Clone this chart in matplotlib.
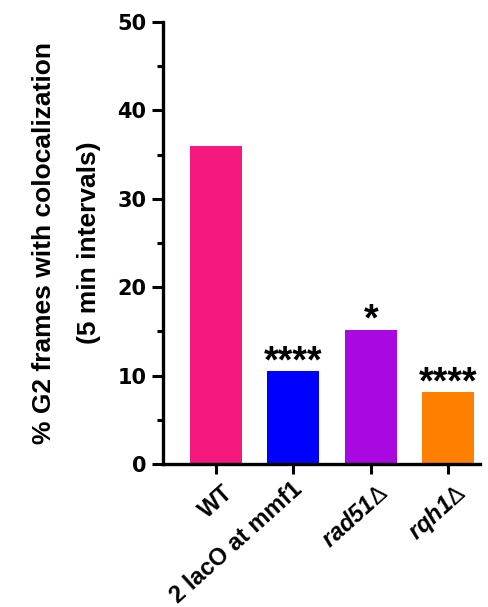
import matplotlib
matplotlib.use("Agg")
import matplotlib.pyplot as plt
from matplotlib.ticker import MultipleLocator
import matplotlib.transforms as mtransforms

plt.rcParams['font.family'] = ['Liberation Sans', 'DejaVu Sans']
plt.rcParams['mathtext.fontset'] = 'custom'
plt.rcParams['mathtext.rm'] = 'Liberation Sans'
plt.rcParams['mathtext.bfit'] = 'Liberation Sans:italic:bold'
plt.rcParams['mathtext.bf'] = 'Liberation Sans:bold'

categories = ["WT", "2 lacO at mmf1", r"$\mathbfit{rad51}\mathrm{\Delta}$", r"$\mathbfit{rqh1}\mathrm{\Delta}$"]
values = [36.0, 10.5, 15.2, 8.1]
colors = ["#F5187F", "#0000FF", "#AA08E0", "#FF8000"]
stars = ["", "****", "*", "****"]

fig = plt.figure(figsize=(4.88, 6.07), dpi=100)
ax = fig.add_axes([0.334, 0.2356, 0.650, 0.7282])

x = list(range(len(values)))
ax.bar(x, values, width=0.67, color=colors, zorder=2)
for xi, v, s in zip(x, values, stars):
    if s:
        ax.text(xi, v - 1.0, s, ha='center', va='bottom', fontsize=27, fontweight='bold',
                family='Liberation Sans')

ax.set_xlim(-0.68, 3.41)
ax.set_ylim(0, 50)
ax.yaxis.set_major_locator(MultipleLocator(10))
ax.yaxis.set_minor_locator(MultipleLocator(5))
ax.set_xticks(x)
ax.set_xticklabels([])

label_shifts = [(14, -26), (6, -22), (14, -26), (14, -26)]
for xi, lab, (dx, dy) in zip(x, categories, label_shifts):
    tr = ax.get_xaxis_transform() + mtransforms.ScaledTranslation(dx/100, dy/100, fig.dpi_scale_trans)
    ax.text(xi, 0, lab, transform=tr, rotation=42, ha='right', va='center',
            rotation_mode='anchor', fontsize=17, fontweight='bold', clip_on=False)

for lbl in ax.get_yticklabels():
    lbl.set_fontweight('bold')
    lbl.set_family('DejaVu Sans')
ax.tick_params(axis='y', labelsize=15, width=2.2, length=8, pad=4)
ax.tick_params(axis='y', which='minor', width=2.2, length=4.5)
ax.tick_params(axis='x', width=2.2, length=7.5, pad=4)

for sp in ['top', 'right']:
    ax.spines[sp].set_visible(False)
for sp in ['left', 'bottom']:
    ax.spines[sp].set_linewidth(2.4)

ax.set_ylabel("% G2 frames with colocalization\n(5 min intervals)", fontsize=19,
              fontweight='bold', labelpad=12, linespacing=2.1)

fig.savefig("out.png", dpi=100)
